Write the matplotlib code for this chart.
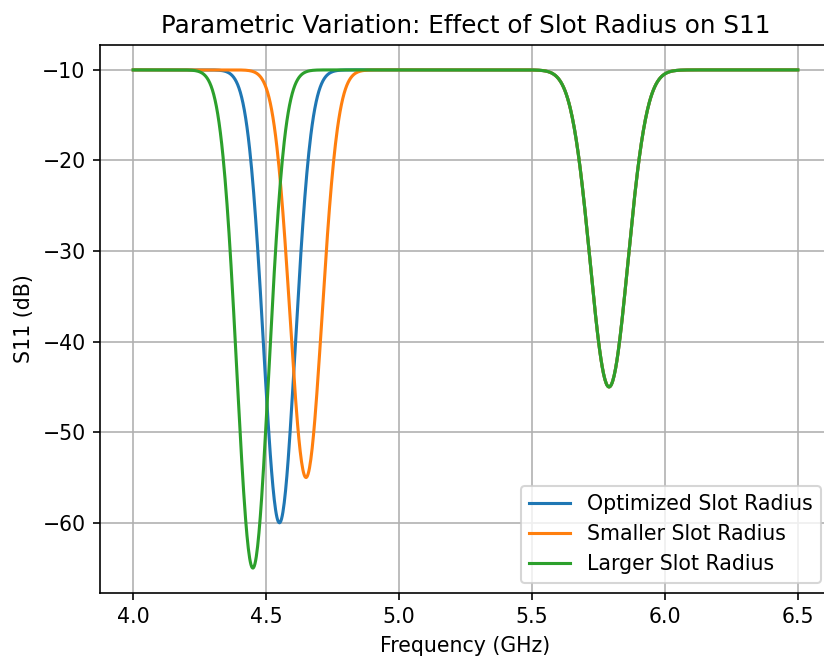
import numpy as np
import matplotlib
matplotlib.use("Agg")
import matplotlib.pyplot as plt

# Dip parameters (GHz, dB)
labels = ["Optimized Slot Radius", "Smaller Slot Radius", "Larger Slot Radius"]
centers = [4.55, 4.65, 4.45]
minima = [-60, -55, -65]
widths = [0.06, 0.06, 0.06]

# second resonance, shared by all three curves
second_center = 5.79
second_min = -45
second_width = 0.071

baseline = -10
f_start, f_stop = 4.0, 6.5

freq = np.linspace(f_start, f_stop, 1000)


def s11_curve(f, c, m, w):
    dip1 = (baseline - m) * np.exp(-((f - c) ** 2) / (2 * w ** 2))
    dip2 = (baseline - second_min) * np.exp(-((f - second_center) ** 2) / (2 * second_width ** 2))
    return baseline - dip1 - dip2


DPI = 148
fig = plt.figure(figsize=(824 / DPI, 659 / DPI), dpi=DPI)
ax = fig.add_axes([100 / 824, 1 - 593 / 659, 731 / 824, 548 / 659])

for lab, c, m, w in zip(labels, centers, minima, widths):
    ax.plot(freq, s11_curve(freq, c, m, w), label=lab, linewidth=1.5)

ax.set_title("Parametric Variation: Effect of Slot Radius on S11")
ax.set_xlabel("Frequency (GHz)")
ax.set_ylabel("S11 (dB)")
ax.grid(True)
ax.legend(loc="lower right")

fig.savefig("out.png", dpi=DPI)
